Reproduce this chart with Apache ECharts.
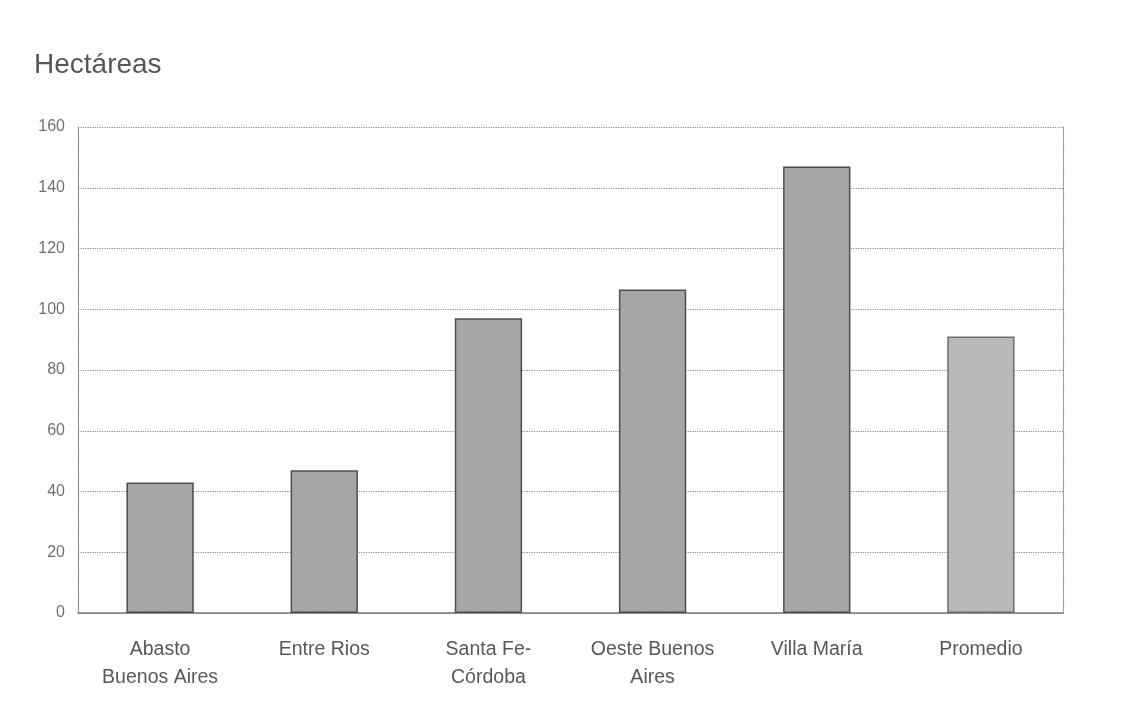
<!DOCTYPE html>
<html>
<head>
<meta charset="utf-8">
<script src="https://cdn.jsdelivr.net/npm/echarts@6/dist/echarts.min.js"></script>
<style>
  html, body { margin: 0; padding: 0; background: #fff; }
  #chart { width: 1146px; height: 701px; }
</style>
</head>
<body>
<div id="chart"></div>
<script>
// Superficie media por cuenca (hectáreas)
const categories = ['Abasto\nBuenos Aires', 'Entre Rios', 'Santa Fe-\nCórdoba', 'Oeste Buenos\nAires', 'Villa María', 'Promedio'];
const hectareas = [43, 47, 97, 106.5, 147, 91];
const yTicks = [0, 20, 40, 60, 80, 100, 120, 140, 160];

const chart = echarts.init(document.getElementById('chart'));
const font = 'Liberation Sans, Arial, sans-serif';

chart.setOption({
  backgroundColor: '#ffffff',
  animation: false,
  title: {
    text: 'Hectáreas',
    left: 29, top: 46,
    textStyle: { fontFamily: font, fontWeight: 'normal', fontSize: 28, color: '#575757' }
  },
  grid: { left: 78, right: 83, top: 127, bottom: 88 },
  xAxis: {
    type: 'category',
    data: categories,
    axisLine: { lineStyle: { color: '#7a7a7a', width: 1.5 } },
    axisTick: { show: false },
    axisLabel: {
      interval: 0, hideOverlap: false,
      margin: 23, fontFamily: font, fontSize: 19.5, lineHeight: 28, color: '#585858'
    }
  },
  yAxis: [{
    type: 'value',
    min: yTicks[0], max: yTicks[yTicks.length - 1], interval: 20,
    axisLine: { show: true, lineStyle: { color: '#888', type: 'dotted', width: 1.2 } },
    axisTick: { show: false },
    axisLabel: { margin: 13, fontFamily: font, fontSize: 16, color: '#707070' },
    splitLine: { lineStyle: { color: '#8a8a8a', type: 'dotted', width: 1.2 } }
  }, {
    type: 'value',
    position: 'right',
    min: yTicks[0], max: yTicks[yTicks.length - 1], interval: 20,
    axisLine: { show: true, lineStyle: { color: '#999', type: 'dotted', width: 1.2 } },
    axisTick: { show: false },
    axisLabel: { show: false },
    splitLine: { show: false }
  }],
  series: [{
    type: 'bar',
    data: hectareas.map((v, i) => ({
      value: v,
      itemStyle: i === hectareas.length - 1
        ? { color: '#b8b8b8', borderColor: '#6e6e6e' }
        : { color: '#a6a6a6', borderColor: '#4d4d4d' }
    })),
    barWidth: '41%',
    itemStyle: { borderWidth: 1.5 }
  }]
});
</script>
</body>
</html>
